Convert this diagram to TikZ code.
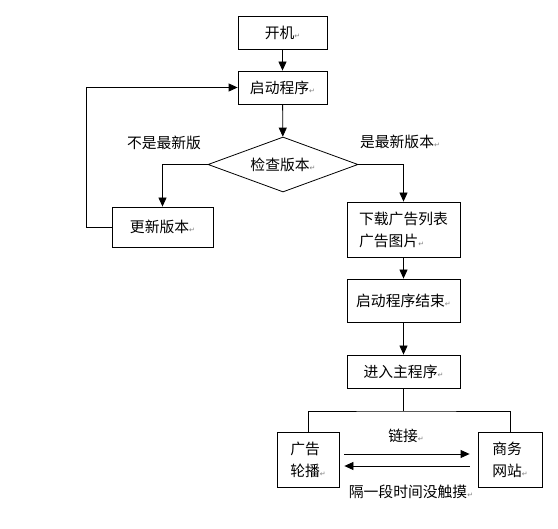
\documentclass[tikz,border=0pt]{standalone}
\usepackage{fontspec}
\setmainfont{Noto Sans CJK SC}
\newfontfamily\dejavu{DejaVu Sans}
\usetikzlibrary{arrows.meta,shapes.geometric,calc}
\newcommand\retmark{{\dejavu\fontsize{7}{7}\selectfont\color{gray}↵}}
\begin{document}
\begin{tikzpicture}[x=1pt,y=-1pt,
  every node/.style={font=\fontsize{14.8}{22}\selectfont},
  box/.style={draw,line width=0.8pt,rectangle,inner sep=0pt,align=center},
  arr/.style={line width=0.8pt,-{Triangle[length=9pt,width=8pt]}},
  ln/.style={line width=0.8pt}]
\useasboundingbox[fill=white] (0,0) rectangle (558,529);
\node[box,minimum width=89pt,minimum height=33pt] (boot) at (282.5,32.5) {开机\retmark};
\node[box,minimum width=89pt,minimum height=33pt] (start) at (282.5,87.5) {启动程序\retmark};
\node[draw,line width=0.8pt,diamond,aspect=2.7,inner sep=0pt,minimum width=150pt,minimum height=55pt] (chk) at (283,164.5) {检查版本\retmark};
\node[box,minimum width=101pt,minimum height=40pt] (upd) at (162.5,227) {更新版本\retmark};
\node[box,minimum width=113pt,minimum height=55pt,align=left] (dl) at (403.5,229.5) {下载广告列表\\广告图片\retmark};
\node[box,minimum width=113pt,minimum height=43pt] (endst) at (403.5,300.5) {启动程序结束\retmark};
\node[box,minimum width=113pt,minimum height=33pt] (main) at (403.5,371.5) {进入主程序\retmark};
\node[box,minimum width=62pt,minimum height=55pt,align=left] (ad) at (308,459.5) {广告\\轮播\retmark};
\node[box,minimum width=64pt,minimum height=55pt,align=left] (biz) at (510,459.5) {商务\\网站\retmark};
\coordinate (split) at (403.5,411);
\node (lnot) at (164,143) {不是最新版};
\node (lyes) at (400,142) {是最新版本\retmark};
\node (llink) at (406,436) {链接\retmark};
\node (lidle) at (411,492) {隔一段时间没触摸\retmark};
\draw[arr] (boot) -- (start);
\draw[arr] (start) -- (chk);
\draw[arr] (chk.west) -| (upd.north);
\draw[arr] (chk.east) -| (dl.north);
\draw[arr] (upd.west) -- ++(-25,0) |- (start.west);
\draw[arr] (dl) -- (endst);
\draw[arr] (endst) -- (main);
\draw[ln] (main.south) -- (split);
\draw[ln] (ad.north) |- (split) -| (biz.north);
\draw[arr] ($(ad.east)+(5,-5.5)$) -- ($(biz.west)+(-8,-5.5)$);
\draw[arr] ($(biz.west)+(-8,6.5)$) -- ($(ad.east)+(5,6.5)$);
\end{tikzpicture}
\end{document}
